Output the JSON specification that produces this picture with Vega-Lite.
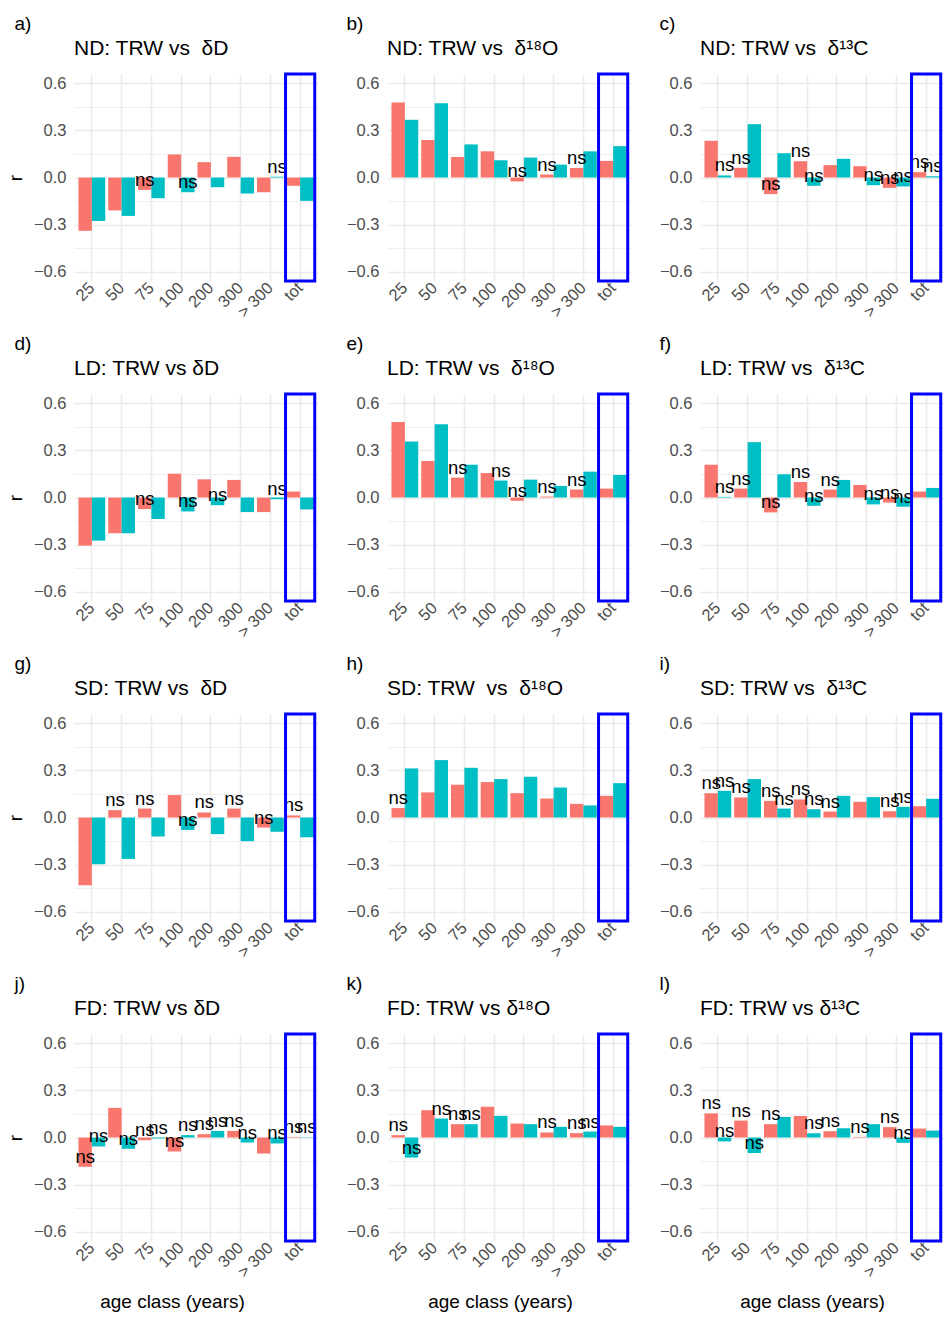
{
"$schema": "https://vega.github.io/schema/vega-lite/v6.json",
"background": "white",
"padding": {"left": 6, "top": 14, "right": 0, "bottom": 0},
"datasets": {"d": [
{"p":"a","age":"25","g":"A","r":-0.34,"ns":0},{"p":"a","age":"25","g":"B","r":-0.277,"ns":0},
{"p":"a","age":"50","g":"A","r":-0.21,"ns":0},{"p":"a","age":"50","g":"B","r":-0.245,"ns":0},
{"p":"a","age":"75","g":"A","r":-0.079,"ns":1},{"p":"a","age":"75","g":"B","r":-0.132,"ns":0},
{"p":"a","age":"100","g":"A","r":0.147,"ns":0},{"p":"a","age":"100","g":"B","r":-0.094,"ns":1},
{"p":"a","age":"200","g":"A","r":0.098,"ns":0},{"p":"a","age":"200","g":"B","r":-0.062,"ns":0},
{"p":"a","age":"300","g":"A","r":0.132,"ns":0},{"p":"a","age":"300","g":"B","r":-0.102,"ns":0},
{"p":"a","age":"> 300","g":"A","r":-0.094,"ns":0},{"p":"a","age":"> 300","g":"B","r":0.005,"ns":1},
{"p":"a","age":"tot","g":"A","r":-0.053,"ns":0},{"p":"a","age":"tot","g":"B","r":-0.149,"ns":0},
{"p":"b","age":"25","g":"A","r":0.478,"ns":0},{"p":"b","age":"25","g":"B","r":0.368,"ns":0},
{"p":"b","age":"50","g":"A","r":0.239,"ns":0},{"p":"b","age":"50","g":"B","r":0.474,"ns":0},
{"p":"b","age":"75","g":"A","r":0.131,"ns":0},{"p":"b","age":"75","g":"B","r":0.211,"ns":0},
{"p":"b","age":"100","g":"A","r":0.167,"ns":0},{"p":"b","age":"100","g":"B","r":0.11,"ns":0},
{"p":"b","age":"200","g":"A","r":-0.025,"ns":1},{"p":"b","age":"200","g":"B","r":0.127,"ns":0},
{"p":"b","age":"300","g":"A","r":0.019,"ns":1},{"p":"b","age":"300","g":"B","r":0.082,"ns":0},
{"p":"b","age":"> 300","g":"A","r":0.061,"ns":1},{"p":"b","age":"> 300","g":"B","r":0.167,"ns":0},
{"p":"b","age":"tot","g":"A","r":0.106,"ns":0},{"p":"b","age":"tot","g":"B","r":0.2,"ns":0},
{"p":"c","age":"25","g":"A","r":0.234,"ns":0},{"p":"c","age":"25","g":"B","r":0.013,"ns":1},
{"p":"c","age":"50","g":"A","r":0.062,"ns":1},{"p":"c","age":"50","g":"B","r":0.34,"ns":0},
{"p":"c","age":"75","g":"A","r":-0.106,"ns":1},{"p":"c","age":"75","g":"B","r":0.155,"ns":0},
{"p":"c","age":"100","g":"A","r":0.104,"ns":1},{"p":"c","age":"100","g":"B","r":-0.053,"ns":1},
{"p":"c","age":"200","g":"A","r":0.079,"ns":0},{"p":"c","age":"200","g":"B","r":0.119,"ns":0},
{"p":"c","age":"300","g":"A","r":0.072,"ns":0},{"p":"c","age":"300","g":"B","r":-0.049,"ns":1},
{"p":"c","age":"> 300","g":"A","r":-0.066,"ns":1},{"p":"c","age":"> 300","g":"B","r":-0.057,"ns":1},
{"p":"c","age":"tot","g":"A","r":0.034,"ns":1},{"p":"c","age":"tot","g":"B","r":0.008,"ns":1},
{"p":"d","age":"25","g":"A","r":-0.307,"ns":0},{"p":"d","age":"25","g":"B","r":-0.275,"ns":0},
{"p":"d","age":"50","g":"A","r":-0.228,"ns":0},{"p":"d","age":"50","g":"B","r":-0.228,"ns":0},
{"p":"d","age":"75","g":"A","r":-0.074,"ns":1},{"p":"d","age":"75","g":"B","r":-0.137,"ns":0},
{"p":"d","age":"100","g":"A","r":0.152,"ns":0},{"p":"d","age":"100","g":"B","r":-0.089,"ns":1},
{"p":"d","age":"200","g":"A","r":0.116,"ns":0},{"p":"d","age":"200","g":"B","r":-0.049,"ns":1},
{"p":"d","age":"300","g":"A","r":0.112,"ns":0},{"p":"d","age":"300","g":"B","r":-0.093,"ns":0},
{"p":"d","age":"> 300","g":"A","r":-0.093,"ns":0},{"p":"d","age":"> 300","g":"B","r":-0.011,"ns":1},
{"p":"d","age":"tot","g":"A","r":0.038,"ns":0},{"p":"d","age":"tot","g":"B","r":-0.076,"ns":0},
{"p":"e","age":"25","g":"A","r":0.482,"ns":0},{"p":"e","age":"25","g":"B","r":0.357,"ns":0},
{"p":"e","age":"50","g":"A","r":0.233,"ns":0},{"p":"e","age":"50","g":"B","r":0.467,"ns":0},
{"p":"e","age":"75","g":"A","r":0.127,"ns":1},{"p":"e","age":"75","g":"B","r":0.209,"ns":0},
{"p":"e","age":"100","g":"A","r":0.156,"ns":0},{"p":"e","age":"100","g":"B","r":0.108,"ns":1},
{"p":"e","age":"200","g":"A","r":-0.021,"ns":1},{"p":"e","age":"200","g":"B","r":0.114,"ns":0},
{"p":"e","age":"300","g":"A","r":0.006,"ns":1},{"p":"e","age":"300","g":"B","r":0.074,"ns":0},
{"p":"e","age":"> 300","g":"A","r":0.051,"ns":1},{"p":"e","age":"> 300","g":"B","r":0.165,"ns":0},
{"p":"e","age":"tot","g":"A","r":0.057,"ns":0},{"p":"e","age":"tot","g":"B","r":0.144,"ns":0},
{"p":"f","age":"25","g":"A","r":0.209,"ns":0},{"p":"f","age":"25","g":"B","r":0.004,"ns":1},
{"p":"f","age":"50","g":"A","r":0.057,"ns":1},{"p":"f","age":"50","g":"B","r":0.353,"ns":0},
{"p":"f","age":"75","g":"A","r":-0.095,"ns":1},{"p":"f","age":"75","g":"B","r":0.148,"ns":0},
{"p":"f","age":"100","g":"A","r":0.099,"ns":1},{"p":"f","age":"100","g":"B","r":-0.053,"ns":1},
{"p":"f","age":"200","g":"A","r":0.051,"ns":1},{"p":"f","age":"200","g":"B","r":0.112,"ns":0},
{"p":"f","age":"300","g":"A","r":0.08,"ns":0},{"p":"f","age":"300","g":"B","r":-0.044,"ns":1},
{"p":"f","age":"> 300","g":"A","r":-0.032,"ns":1},{"p":"f","age":"> 300","g":"B","r":-0.059,"ns":1},
{"p":"f","age":"tot","g":"A","r":0.038,"ns":0},{"p":"f","age":"tot","g":"B","r":0.061,"ns":0},
{"p":"g","age":"25","g":"A","r":-0.432,"ns":0},{"p":"g","age":"25","g":"B","r":-0.298,"ns":0},
{"p":"g","age":"50","g":"A","r":0.047,"ns":1},{"p":"g","age":"50","g":"B","r":-0.264,"ns":0},
{"p":"g","age":"75","g":"A","r":0.057,"ns":1},{"p":"g","age":"75","g":"B","r":-0.121,"ns":0},
{"p":"g","age":"100","g":"A","r":0.143,"ns":0},{"p":"g","age":"100","g":"B","r":-0.079,"ns":1},
{"p":"g","age":"200","g":"A","r":0.032,"ns":1},{"p":"g","age":"200","g":"B","r":-0.106,"ns":0},
{"p":"g","age":"300","g":"A","r":0.057,"ns":1},{"p":"g","age":"300","g":"B","r":-0.151,"ns":0},
{"p":"g","age":"> 300","g":"A","r":-0.064,"ns":1},{"p":"g","age":"> 300","g":"B","r":-0.091,"ns":0},
{"p":"g","age":"tot","g":"A","r":0.013,"ns":1},{"p":"g","age":"tot","g":"B","r":-0.126,"ns":0},
{"p":"h","age":"25","g":"A","r":0.06,"ns":1},{"p":"h","age":"25","g":"B","r":0.313,"ns":0},
{"p":"h","age":"50","g":"A","r":0.16,"ns":0},{"p":"h","age":"50","g":"B","r":0.366,"ns":0},
{"p":"h","age":"75","g":"A","r":0.209,"ns":0},{"p":"h","age":"75","g":"B","r":0.317,"ns":0},
{"p":"h","age":"100","g":"A","r":0.226,"ns":0},{"p":"h","age":"100","g":"B","r":0.245,"ns":0},
{"p":"h","age":"200","g":"A","r":0.155,"ns":0},{"p":"h","age":"200","g":"B","r":0.26,"ns":0},
{"p":"h","age":"300","g":"A","r":0.121,"ns":0},{"p":"h","age":"300","g":"B","r":0.191,"ns":0},
{"p":"h","age":"> 300","g":"A","r":0.087,"ns":0},{"p":"h","age":"> 300","g":"B","r":0.077,"ns":0},
{"p":"h","age":"tot","g":"A","r":0.138,"ns":0},{"p":"h","age":"tot","g":"B","r":0.219,"ns":0},
{"p":"i","age":"25","g":"A","r":0.155,"ns":1},{"p":"i","age":"25","g":"B","r":0.17,"ns":1},
{"p":"i","age":"50","g":"A","r":0.128,"ns":1},{"p":"i","age":"50","g":"B","r":0.245,"ns":0},
{"p":"i","age":"75","g":"A","r":0.106,"ns":1},{"p":"i","age":"75","g":"B","r":0.057,"ns":1},
{"p":"i","age":"100","g":"A","r":0.115,"ns":1},{"p":"i","age":"100","g":"B","r":0.053,"ns":1},
{"p":"i","age":"200","g":"A","r":0.038,"ns":1},{"p":"i","age":"200","g":"B","r":0.138,"ns":0},
{"p":"i","age":"300","g":"A","r":0.1,"ns":0},{"p":"i","age":"300","g":"B","r":0.13,"ns":0},
{"p":"i","age":"> 300","g":"A","r":0.04,"ns":1},{"p":"i","age":"> 300","g":"B","r":0.068,"ns":1},
{"p":"i","age":"tot","g":"A","r":0.072,"ns":0},{"p":"i","age":"tot","g":"B","r":0.119,"ns":0},
{"p":"j","age":"25","g":"A","r":-0.187,"ns":1},{"p":"j","age":"25","g":"B","r":-0.057,"ns":1},
{"p":"j","age":"50","g":"A","r":0.189,"ns":0},{"p":"j","age":"50","g":"B","r":-0.072,"ns":1},
{"p":"j","age":"75","g":"A","r":-0.017,"ns":1},{"p":"j","age":"75","g":"B","r":-0.006,"ns":1},
{"p":"j","age":"100","g":"A","r":-0.089,"ns":1},{"p":"j","age":"100","g":"B","r":0.015,"ns":1},
{"p":"j","age":"200","g":"A","r":0.021,"ns":1},{"p":"j","age":"200","g":"B","r":0.042,"ns":1},
{"p":"j","age":"300","g":"A","r":0.042,"ns":1},{"p":"j","age":"300","g":"B","r":-0.032,"ns":1},
{"p":"j","age":"> 300","g":"A","r":-0.102,"ns":0},{"p":"j","age":"> 300","g":"B","r":-0.038,"ns":1},
{"p":"j","age":"tot","g":"A","r":0.004,"ns":1},{"p":"j","age":"tot","g":"B","r":0.002,"ns":1},
{"p":"k","age":"25","g":"A","r":0.015,"ns":1},{"p":"k","age":"25","g":"B","r":-0.128,"ns":1},
{"p":"k","age":"50","g":"A","r":0.174,"ns":0},{"p":"k","age":"50","g":"B","r":0.121,"ns":1},
{"p":"k","age":"75","g":"A","r":0.085,"ns":1},{"p":"k","age":"75","g":"B","r":0.085,"ns":1},
{"p":"k","age":"100","g":"A","r":0.196,"ns":0},{"p":"k","age":"100","g":"B","r":0.138,"ns":0},
{"p":"k","age":"200","g":"A","r":0.089,"ns":0},{"p":"k","age":"200","g":"B","r":0.085,"ns":0},
{"p":"k","age":"300","g":"A","r":0.032,"ns":1},{"p":"k","age":"300","g":"B","r":0.068,"ns":0},
{"p":"k","age":"> 300","g":"A","r":0.028,"ns":1},{"p":"k","age":"> 300","g":"B","r":0.038,"ns":1},
{"p":"k","age":"tot","g":"A","r":0.077,"ns":0},{"p":"k","age":"tot","g":"B","r":0.068,"ns":0},
{"p":"l","age":"25","g":"A","r":0.154,"ns":1},{"p":"l","age":"25","g":"B","r":-0.025,"ns":1},
{"p":"l","age":"50","g":"A","r":0.108,"ns":1},{"p":"l","age":"50","g":"B","r":-0.099,"ns":1},
{"p":"l","age":"75","g":"A","r":0.085,"ns":1},{"p":"l","age":"75","g":"B","r":0.131,"ns":0},
{"p":"l","age":"100","g":"A","r":0.137,"ns":0},{"p":"l","age":"100","g":"B","r":0.027,"ns":1},
{"p":"l","age":"200","g":"A","r":0.04,"ns":1},{"p":"l","age":"200","g":"B","r":0.059,"ns":0},
{"p":"l","age":"300","g":"A","r":0.004,"ns":1},{"p":"l","age":"300","g":"B","r":0.085,"ns":0},
{"p":"l","age":"> 300","g":"A","r":0.066,"ns":1},{"p":"l","age":"> 300","g":"B","r":-0.034,"ns":1},
{"p":"l","age":"tot","g":"A","r":0.057,"ns":0},{"p":"l","age":"tot","g":"B","r":0.044,"ns":0}
]},
"spacing": 13,
"vconcat": [
{"hconcat": [
{"title": {"text": "a)", "fontSize": 19, "frame": "bounds", "offset": 4, "dx": 8},
 "vconcat": [{"title": {"text": "ND: TRW vs \u00a0δD", "fontSize": 21, "frame": "group", "offset": 14},
  "width": 244, "height": 207, "data": {"name": "d"}, "transform": [{"filter": "datum.p == 'a'"}],
  "encoding": {"x": {"field": "age", "type": "nominal", "scale": {"domain": ["25","50","75","100","200","300","> 300","tot"], "paddingInner": 0.1, "paddingOuter": 0.15}, "axis": {"title": null}},
   "y": {"field": "r", "type": "quantitative", "scale": {"domain": [-0.66, 0.66], "nice": false}, "axis": {"title": "r", "values": [-0.6, -0.45, -0.3, -0.15, 0, 0.15, 0.3, 0.45, 0.6], "labelExpr": "abs(datum.value) == 0.15 || abs(datum.value) == 0.45 ? '' : format(datum.value, '.1f')", "gridWidth": {"condition": {"test": "abs(datum.value) == 0.15 || abs(datum.value) == 0.45", "value": 0.8}, "value": 1.6}}}},
  "layer": [
   {"mark": {"type": "bar"}, "encoding": {"xOffset": {"field": "g", "scale": {"paddingInner": 0, "paddingOuter": 0}}, "color": {"field": "g", "scale": {"range": ["#F8766D", "#00BFC4"]}, "legend": null}}},
   {"transform": [{"filter": "datum.ns == 1"}], "mark": {"type": "text", "baseline": "alphabetic", "dy": -4, "fontSize": 18.5, "color": "#000000"}, "encoding": {"xOffset": {"field": "g"}, "text": {"value": "ns"}}},
   {"transform": [{"filter": "datum.age == 'tot' && datum.g == 'A'"}], "mark": {"type": "bar", "fill": "#ffffff", "fillOpacity": 0, "stroke": "#0000FF", "strokeWidth": 3, "width": {"band": 1.09}}, "encoding": {"y": {"datum": -0.66}, "y2": {"datum": 0.66}}}
  ]}]},
{"title": {"text": "b)", "fontSize": 19, "frame": "bounds", "offset": 4},
 "vconcat": [{"title": {"text": "ND: TRW vs \u00a0δ¹⁸O", "fontSize": 21, "frame": "group", "offset": 14},
  "width": 244, "height": 207, "data": {"name": "d"}, "transform": [{"filter": "datum.p == 'b'"}],
  "encoding": {"x": {"field": "age", "type": "nominal", "scale": {"domain": ["25","50","75","100","200","300","> 300","tot"], "paddingInner": 0.1, "paddingOuter": 0.15}, "axis": {"title": null}},
   "y": {"field": "r", "type": "quantitative", "scale": {"domain": [-0.66, 0.66], "nice": false}, "axis": {"title": null, "values": [-0.6, -0.45, -0.3, -0.15, 0, 0.15, 0.3, 0.45, 0.6], "labelExpr": "abs(datum.value) == 0.15 || abs(datum.value) == 0.45 ? '' : format(datum.value, '.1f')", "gridWidth": {"condition": {"test": "abs(datum.value) == 0.15 || abs(datum.value) == 0.45", "value": 0.8}, "value": 1.6}}}},
  "layer": [
   {"mark": {"type": "bar"}, "encoding": {"xOffset": {"field": "g", "scale": {"paddingInner": 0, "paddingOuter": 0}}, "color": {"field": "g", "scale": {"range": ["#F8766D", "#00BFC4"]}, "legend": null}}},
   {"transform": [{"filter": "datum.ns == 1"}], "mark": {"type": "text", "baseline": "alphabetic", "dy": -4, "fontSize": 18.5, "color": "#000000"}, "encoding": {"xOffset": {"field": "g"}, "text": {"value": "ns"}}},
   {"transform": [{"filter": "datum.age == 'tot' && datum.g == 'A'"}], "mark": {"type": "bar", "fill": "#ffffff", "fillOpacity": 0, "stroke": "#0000FF", "strokeWidth": 3, "width": {"band": 1.09}}, "encoding": {"y": {"datum": -0.66}, "y2": {"datum": 0.66}}}
  ]}]},
{"title": {"text": "c)", "fontSize": 19, "frame": "bounds", "offset": 4},
 "vconcat": [{"title": {"text": "ND: TRW vs \u00a0δ¹³C", "fontSize": 21, "frame": "group", "offset": 14},
  "width": 244, "height": 207, "data": {"name": "d"}, "transform": [{"filter": "datum.p == 'c'"}],
  "encoding": {"x": {"field": "age", "type": "nominal", "scale": {"domain": ["25","50","75","100","200","300","> 300","tot"], "paddingInner": 0.1, "paddingOuter": 0.15}, "axis": {"title": null}},
   "y": {"field": "r", "type": "quantitative", "scale": {"domain": [-0.66, 0.66], "nice": false}, "axis": {"title": null, "values": [-0.6, -0.45, -0.3, -0.15, 0, 0.15, 0.3, 0.45, 0.6], "labelExpr": "abs(datum.value) == 0.15 || abs(datum.value) == 0.45 ? '' : format(datum.value, '.1f')", "gridWidth": {"condition": {"test": "abs(datum.value) == 0.15 || abs(datum.value) == 0.45", "value": 0.8}, "value": 1.6}}}},
  "layer": [
   {"mark": {"type": "bar"}, "encoding": {"xOffset": {"field": "g", "scale": {"paddingInner": 0, "paddingOuter": 0}}, "color": {"field": "g", "scale": {"range": ["#F8766D", "#00BFC4"]}, "legend": null}}},
   {"transform": [{"filter": "datum.ns == 1"}], "mark": {"type": "text", "baseline": "alphabetic", "dy": -4, "fontSize": 18.5, "color": "#000000"}, "encoding": {"xOffset": {"field": "g"}, "text": {"value": "ns"}}},
   {"transform": [{"filter": "datum.age == 'tot' && datum.g == 'A'"}], "mark": {"type": "bar", "fill": "#ffffff", "fillOpacity": 0, "stroke": "#0000FF", "strokeWidth": 3, "width": {"band": 1.09}}, "encoding": {"y": {"datum": -0.66}, "y2": {"datum": 0.66}}}
  ]}]}
], "spacing": 28},
{"hconcat": [
{"title": {"text": "d)", "fontSize": 19, "frame": "bounds", "offset": 4, "dx": 8},
 "vconcat": [{"title": {"text": "LD: TRW vs δD", "fontSize": 21, "frame": "group", "offset": 14},
  "width": 244, "height": 207, "data": {"name": "d"}, "transform": [{"filter": "datum.p == 'd'"}],
  "encoding": {"x": {"field": "age", "type": "nominal", "scale": {"domain": ["25","50","75","100","200","300","> 300","tot"], "paddingInner": 0.1, "paddingOuter": 0.15}, "axis": {"title": null}},
   "y": {"field": "r", "type": "quantitative", "scale": {"domain": [-0.66, 0.66], "nice": false}, "axis": {"title": "r", "values": [-0.6, -0.45, -0.3, -0.15, 0, 0.15, 0.3, 0.45, 0.6], "labelExpr": "abs(datum.value) == 0.15 || abs(datum.value) == 0.45 ? '' : format(datum.value, '.1f')", "gridWidth": {"condition": {"test": "abs(datum.value) == 0.15 || abs(datum.value) == 0.45", "value": 0.8}, "value": 1.6}}}},
  "layer": [
   {"mark": {"type": "bar"}, "encoding": {"xOffset": {"field": "g", "scale": {"paddingInner": 0, "paddingOuter": 0}}, "color": {"field": "g", "scale": {"range": ["#F8766D", "#00BFC4"]}, "legend": null}}},
   {"transform": [{"filter": "datum.ns == 1"}], "mark": {"type": "text", "baseline": "alphabetic", "dy": -4, "fontSize": 18.5, "color": "#000000"}, "encoding": {"xOffset": {"field": "g"}, "text": {"value": "ns"}}},
   {"transform": [{"filter": "datum.age == 'tot' && datum.g == 'A'"}], "mark": {"type": "bar", "fill": "#ffffff", "fillOpacity": 0, "stroke": "#0000FF", "strokeWidth": 3, "width": {"band": 1.09}}, "encoding": {"y": {"datum": -0.66}, "y2": {"datum": 0.66}}}
  ]}]},
{"title": {"text": "e)", "fontSize": 19, "frame": "bounds", "offset": 4},
 "vconcat": [{"title": {"text": "LD: TRW vs \u00a0δ¹⁸O", "fontSize": 21, "frame": "group", "offset": 14},
  "width": 244, "height": 207, "data": {"name": "d"}, "transform": [{"filter": "datum.p == 'e'"}],
  "encoding": {"x": {"field": "age", "type": "nominal", "scale": {"domain": ["25","50","75","100","200","300","> 300","tot"], "paddingInner": 0.1, "paddingOuter": 0.15}, "axis": {"title": null}},
   "y": {"field": "r", "type": "quantitative", "scale": {"domain": [-0.66, 0.66], "nice": false}, "axis": {"title": null, "values": [-0.6, -0.45, -0.3, -0.15, 0, 0.15, 0.3, 0.45, 0.6], "labelExpr": "abs(datum.value) == 0.15 || abs(datum.value) == 0.45 ? '' : format(datum.value, '.1f')", "gridWidth": {"condition": {"test": "abs(datum.value) == 0.15 || abs(datum.value) == 0.45", "value": 0.8}, "value": 1.6}}}},
  "layer": [
   {"mark": {"type": "bar"}, "encoding": {"xOffset": {"field": "g", "scale": {"paddingInner": 0, "paddingOuter": 0}}, "color": {"field": "g", "scale": {"range": ["#F8766D", "#00BFC4"]}, "legend": null}}},
   {"transform": [{"filter": "datum.ns == 1"}], "mark": {"type": "text", "baseline": "alphabetic", "dy": -4, "fontSize": 18.5, "color": "#000000"}, "encoding": {"xOffset": {"field": "g"}, "text": {"value": "ns"}}},
   {"transform": [{"filter": "datum.age == 'tot' && datum.g == 'A'"}], "mark": {"type": "bar", "fill": "#ffffff", "fillOpacity": 0, "stroke": "#0000FF", "strokeWidth": 3, "width": {"band": 1.09}}, "encoding": {"y": {"datum": -0.66}, "y2": {"datum": 0.66}}}
  ]}]},
{"title": {"text": "f)", "fontSize": 19, "frame": "bounds", "offset": 4},
 "vconcat": [{"title": {"text": "LD: TRW vs \u00a0δ¹³C", "fontSize": 21, "frame": "group", "offset": 14},
  "width": 244, "height": 207, "data": {"name": "d"}, "transform": [{"filter": "datum.p == 'f'"}],
  "encoding": {"x": {"field": "age", "type": "nominal", "scale": {"domain": ["25","50","75","100","200","300","> 300","tot"], "paddingInner": 0.1, "paddingOuter": 0.15}, "axis": {"title": null}},
   "y": {"field": "r", "type": "quantitative", "scale": {"domain": [-0.66, 0.66], "nice": false}, "axis": {"title": null, "values": [-0.6, -0.45, -0.3, -0.15, 0, 0.15, 0.3, 0.45, 0.6], "labelExpr": "abs(datum.value) == 0.15 || abs(datum.value) == 0.45 ? '' : format(datum.value, '.1f')", "gridWidth": {"condition": {"test": "abs(datum.value) == 0.15 || abs(datum.value) == 0.45", "value": 0.8}, "value": 1.6}}}},
  "layer": [
   {"mark": {"type": "bar"}, "encoding": {"xOffset": {"field": "g", "scale": {"paddingInner": 0, "paddingOuter": 0}}, "color": {"field": "g", "scale": {"range": ["#F8766D", "#00BFC4"]}, "legend": null}}},
   {"transform": [{"filter": "datum.ns == 1"}], "mark": {"type": "text", "baseline": "alphabetic", "dy": -4, "fontSize": 18.5, "color": "#000000"}, "encoding": {"xOffset": {"field": "g"}, "text": {"value": "ns"}}},
   {"transform": [{"filter": "datum.age == 'tot' && datum.g == 'A'"}], "mark": {"type": "bar", "fill": "#ffffff", "fillOpacity": 0, "stroke": "#0000FF", "strokeWidth": 3, "width": {"band": 1.09}}, "encoding": {"y": {"datum": -0.66}, "y2": {"datum": 0.66}}}
  ]}]}
], "spacing": 28},
{"hconcat": [
{"title": {"text": "g)", "fontSize": 19, "frame": "bounds", "offset": 4, "dx": 8},
 "vconcat": [{"title": {"text": "SD: TRW vs \u00a0δD", "fontSize": 21, "frame": "group", "offset": 14},
  "width": 244, "height": 207, "data": {"name": "d"}, "transform": [{"filter": "datum.p == 'g'"}],
  "encoding": {"x": {"field": "age", "type": "nominal", "scale": {"domain": ["25","50","75","100","200","300","> 300","tot"], "paddingInner": 0.1, "paddingOuter": 0.15}, "axis": {"title": null}},
   "y": {"field": "r", "type": "quantitative", "scale": {"domain": [-0.66, 0.66], "nice": false}, "axis": {"title": "r", "values": [-0.6, -0.45, -0.3, -0.15, 0, 0.15, 0.3, 0.45, 0.6], "labelExpr": "abs(datum.value) == 0.15 || abs(datum.value) == 0.45 ? '' : format(datum.value, '.1f')", "gridWidth": {"condition": {"test": "abs(datum.value) == 0.15 || abs(datum.value) == 0.45", "value": 0.8}, "value": 1.6}}}},
  "layer": [
   {"mark": {"type": "bar"}, "encoding": {"xOffset": {"field": "g", "scale": {"paddingInner": 0, "paddingOuter": 0}}, "color": {"field": "g", "scale": {"range": ["#F8766D", "#00BFC4"]}, "legend": null}}},
   {"transform": [{"filter": "datum.ns == 1"}], "mark": {"type": "text", "baseline": "alphabetic", "dy": -4, "fontSize": 18.5, "color": "#000000"}, "encoding": {"xOffset": {"field": "g"}, "text": {"value": "ns"}}},
   {"transform": [{"filter": "datum.age == 'tot' && datum.g == 'A'"}], "mark": {"type": "bar", "fill": "#ffffff", "fillOpacity": 0, "stroke": "#0000FF", "strokeWidth": 3, "width": {"band": 1.09}}, "encoding": {"y": {"datum": -0.66}, "y2": {"datum": 0.66}}}
  ]}]},
{"title": {"text": "h)", "fontSize": 19, "frame": "bounds", "offset": 4},
 "vconcat": [{"title": {"text": "SD: TRW \u00a0vs \u00a0δ¹⁸O", "fontSize": 21, "frame": "group", "offset": 14},
  "width": 244, "height": 207, "data": {"name": "d"}, "transform": [{"filter": "datum.p == 'h'"}],
  "encoding": {"x": {"field": "age", "type": "nominal", "scale": {"domain": ["25","50","75","100","200","300","> 300","tot"], "paddingInner": 0.1, "paddingOuter": 0.15}, "axis": {"title": null}},
   "y": {"field": "r", "type": "quantitative", "scale": {"domain": [-0.66, 0.66], "nice": false}, "axis": {"title": null, "values": [-0.6, -0.45, -0.3, -0.15, 0, 0.15, 0.3, 0.45, 0.6], "labelExpr": "abs(datum.value) == 0.15 || abs(datum.value) == 0.45 ? '' : format(datum.value, '.1f')", "gridWidth": {"condition": {"test": "abs(datum.value) == 0.15 || abs(datum.value) == 0.45", "value": 0.8}, "value": 1.6}}}},
  "layer": [
   {"mark": {"type": "bar"}, "encoding": {"xOffset": {"field": "g", "scale": {"paddingInner": 0, "paddingOuter": 0}}, "color": {"field": "g", "scale": {"range": ["#F8766D", "#00BFC4"]}, "legend": null}}},
   {"transform": [{"filter": "datum.ns == 1"}], "mark": {"type": "text", "baseline": "alphabetic", "dy": -4, "fontSize": 18.5, "color": "#000000"}, "encoding": {"xOffset": {"field": "g"}, "text": {"value": "ns"}}},
   {"transform": [{"filter": "datum.age == 'tot' && datum.g == 'A'"}], "mark": {"type": "bar", "fill": "#ffffff", "fillOpacity": 0, "stroke": "#0000FF", "strokeWidth": 3, "width": {"band": 1.09}}, "encoding": {"y": {"datum": -0.66}, "y2": {"datum": 0.66}}}
  ]}]},
{"title": {"text": "i)", "fontSize": 19, "frame": "bounds", "offset": 4},
 "vconcat": [{"title": {"text": "SD: TRW vs \u00a0δ¹³C", "fontSize": 21, "frame": "group", "offset": 14},
  "width": 244, "height": 207, "data": {"name": "d"}, "transform": [{"filter": "datum.p == 'i'"}],
  "encoding": {"x": {"field": "age", "type": "nominal", "scale": {"domain": ["25","50","75","100","200","300","> 300","tot"], "paddingInner": 0.1, "paddingOuter": 0.15}, "axis": {"title": null}},
   "y": {"field": "r", "type": "quantitative", "scale": {"domain": [-0.66, 0.66], "nice": false}, "axis": {"title": null, "values": [-0.6, -0.45, -0.3, -0.15, 0, 0.15, 0.3, 0.45, 0.6], "labelExpr": "abs(datum.value) == 0.15 || abs(datum.value) == 0.45 ? '' : format(datum.value, '.1f')", "gridWidth": {"condition": {"test": "abs(datum.value) == 0.15 || abs(datum.value) == 0.45", "value": 0.8}, "value": 1.6}}}},
  "layer": [
   {"mark": {"type": "bar"}, "encoding": {"xOffset": {"field": "g", "scale": {"paddingInner": 0, "paddingOuter": 0}}, "color": {"field": "g", "scale": {"range": ["#F8766D", "#00BFC4"]}, "legend": null}}},
   {"transform": [{"filter": "datum.ns == 1"}], "mark": {"type": "text", "baseline": "alphabetic", "dy": -4, "fontSize": 18.5, "color": "#000000"}, "encoding": {"xOffset": {"field": "g"}, "text": {"value": "ns"}}},
   {"transform": [{"filter": "datum.age == 'tot' && datum.g == 'A'"}], "mark": {"type": "bar", "fill": "#ffffff", "fillOpacity": 0, "stroke": "#0000FF", "strokeWidth": 3, "width": {"band": 1.09}}, "encoding": {"y": {"datum": -0.66}, "y2": {"datum": 0.66}}}
  ]}]}
], "spacing": 28},
{"hconcat": [
{"title": {"text": "j)", "fontSize": 19, "frame": "bounds", "offset": 4, "dx": 8},
 "vconcat": [{"title": {"text": "FD: TRW vs δD", "fontSize": 21, "frame": "group", "offset": 14},
  "width": 244, "height": 207, "data": {"name": "d"}, "transform": [{"filter": "datum.p == 'j'"}],
  "encoding": {"x": {"field": "age", "type": "nominal", "scale": {"domain": ["25","50","75","100","200","300","> 300","tot"], "paddingInner": 0.1, "paddingOuter": 0.15}, "axis": {"title": "age class (years)", "titleX": 98}},
   "y": {"field": "r", "type": "quantitative", "scale": {"domain": [-0.66, 0.66], "nice": false}, "axis": {"title": "r", "values": [-0.6, -0.45, -0.3, -0.15, 0, 0.15, 0.3, 0.45, 0.6], "labelExpr": "abs(datum.value) == 0.15 || abs(datum.value) == 0.45 ? '' : format(datum.value, '.1f')", "gridWidth": {"condition": {"test": "abs(datum.value) == 0.15 || abs(datum.value) == 0.45", "value": 0.8}, "value": 1.6}}}},
  "layer": [
   {"mark": {"type": "bar"}, "encoding": {"xOffset": {"field": "g", "scale": {"paddingInner": 0, "paddingOuter": 0}}, "color": {"field": "g", "scale": {"range": ["#F8766D", "#00BFC4"]}, "legend": null}}},
   {"transform": [{"filter": "datum.ns == 1"}], "mark": {"type": "text", "baseline": "alphabetic", "dy": -4, "fontSize": 18.5, "color": "#000000"}, "encoding": {"xOffset": {"field": "g"}, "text": {"value": "ns"}}},
   {"transform": [{"filter": "datum.age == 'tot' && datum.g == 'A'"}], "mark": {"type": "bar", "fill": "#ffffff", "fillOpacity": 0, "stroke": "#0000FF", "strokeWidth": 3, "width": {"band": 1.09}}, "encoding": {"y": {"datum": -0.66}, "y2": {"datum": 0.66}}}
  ]}]},
{"title": {"text": "k)", "fontSize": 19, "frame": "bounds", "offset": 4},
 "vconcat": [{"title": {"text": "FD: TRW vs δ¹⁸O", "fontSize": 21, "frame": "group", "offset": 14},
  "width": 244, "height": 207, "data": {"name": "d"}, "transform": [{"filter": "datum.p == 'k'"}],
  "encoding": {"x": {"field": "age", "type": "nominal", "scale": {"domain": ["25","50","75","100","200","300","> 300","tot"], "paddingInner": 0.1, "paddingOuter": 0.15}, "axis": {"title": "age class (years)", "titleX": 113}},
   "y": {"field": "r", "type": "quantitative", "scale": {"domain": [-0.66, 0.66], "nice": false}, "axis": {"title": null, "values": [-0.6, -0.45, -0.3, -0.15, 0, 0.15, 0.3, 0.45, 0.6], "labelExpr": "abs(datum.value) == 0.15 || abs(datum.value) == 0.45 ? '' : format(datum.value, '.1f')", "gridWidth": {"condition": {"test": "abs(datum.value) == 0.15 || abs(datum.value) == 0.45", "value": 0.8}, "value": 1.6}}}},
  "layer": [
   {"mark": {"type": "bar"}, "encoding": {"xOffset": {"field": "g", "scale": {"paddingInner": 0, "paddingOuter": 0}}, "color": {"field": "g", "scale": {"range": ["#F8766D", "#00BFC4"]}, "legend": null}}},
   {"transform": [{"filter": "datum.ns == 1"}], "mark": {"type": "text", "baseline": "alphabetic", "dy": -4, "fontSize": 18.5, "color": "#000000"}, "encoding": {"xOffset": {"field": "g"}, "text": {"value": "ns"}}},
   {"transform": [{"filter": "datum.age == 'tot' && datum.g == 'A'"}], "mark": {"type": "bar", "fill": "#ffffff", "fillOpacity": 0, "stroke": "#0000FF", "strokeWidth": 3, "width": {"band": 1.09}}, "encoding": {"y": {"datum": -0.66}, "y2": {"datum": 0.66}}}
  ]}]},
{"title": {"text": "l)", "fontSize": 19, "frame": "bounds", "offset": 4},
 "vconcat": [{"title": {"text": "FD: TRW vs δ¹³C", "fontSize": 21, "frame": "group", "offset": 14},
  "width": 244, "height": 207, "data": {"name": "d"}, "transform": [{"filter": "datum.p == 'l'"}],
  "encoding": {"x": {"field": "age", "type": "nominal", "scale": {"domain": ["25","50","75","100","200","300","> 300","tot"], "paddingInner": 0.1, "paddingOuter": 0.15}, "axis": {"title": "age class (years)", "titleX": 112}},
   "y": {"field": "r", "type": "quantitative", "scale": {"domain": [-0.66, 0.66], "nice": false}, "axis": {"title": null, "values": [-0.6, -0.45, -0.3, -0.15, 0, 0.15, 0.3, 0.45, 0.6], "labelExpr": "abs(datum.value) == 0.15 || abs(datum.value) == 0.45 ? '' : format(datum.value, '.1f')", "gridWidth": {"condition": {"test": "abs(datum.value) == 0.15 || abs(datum.value) == 0.45", "value": 0.8}, "value": 1.6}}}},
  "layer": [
   {"mark": {"type": "bar"}, "encoding": {"xOffset": {"field": "g", "scale": {"paddingInner": 0, "paddingOuter": 0}}, "color": {"field": "g", "scale": {"range": ["#F8766D", "#00BFC4"]}, "legend": null}}},
   {"transform": [{"filter": "datum.ns == 1"}], "mark": {"type": "text", "baseline": "alphabetic", "dy": -4, "fontSize": 18.5, "color": "#000000"}, "encoding": {"xOffset": {"field": "g"}, "text": {"value": "ns"}}},
   {"transform": [{"filter": "datum.age == 'tot' && datum.g == 'A'"}], "mark": {"type": "bar", "fill": "#ffffff", "fillOpacity": 0, "stroke": "#0000FF", "strokeWidth": 3, "width": {"band": 1.09}}, "encoding": {"y": {"datum": -0.66}, "y2": {"datum": 0.66}}}
  ]}]}
], "spacing": 28}
],
"config": {
 "font": "Liberation Sans",
 "view": {"stroke": null},
 "title": {"fontWeight": "normal", "color": "#000000", "anchor": "start"},
 "axis": {"domain": false, "ticks": false, "gridColor": "#EBEBEB", "labelColor": "#4D4D4D", "labelFontSize": 16.5, "titleFontSize": 19, "titleFontWeight": "normal", "titleColor": "#000000"},
 "axisX": {"labelAngle": -45, "labelAlign": "right", "labelBaseline": "middle", "grid": true, "gridWidth": 1.6, "bandPosition": 0.5, "labelPadding": 4, "titlePadding": 12},
 "axisY": {"grid": true, "labelPadding": 8, "titlePadding": 8}
}
}
